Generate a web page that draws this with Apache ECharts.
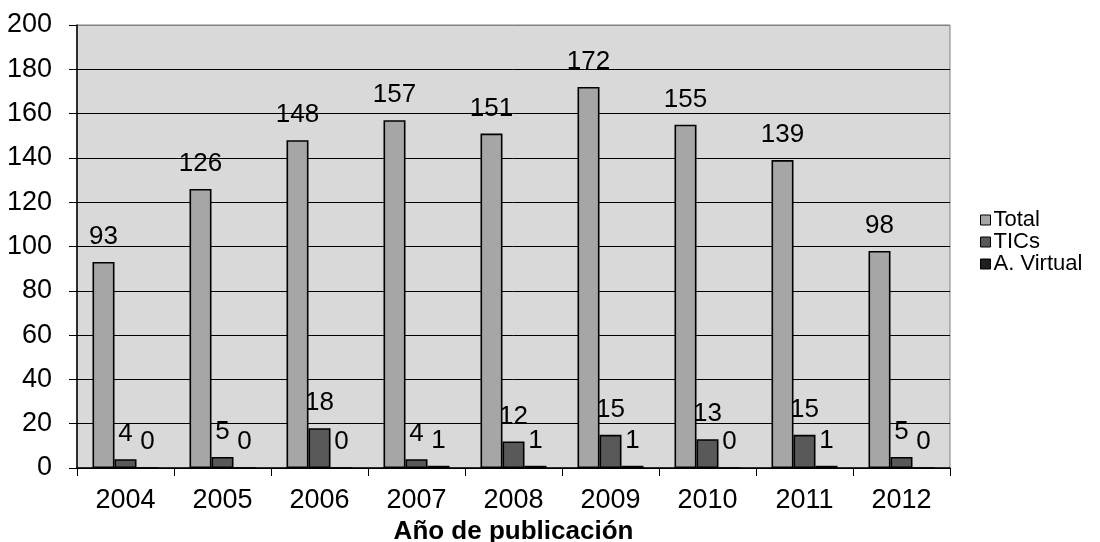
<!DOCTYPE html>
<html>
<head>
<meta charset="utf-8">
<style>
  html, body { margin: 0; padding: 0; background: #fff; }
  #chart { width: 1100px; height: 542px; }
</style>
<script src="https://cdn.jsdelivr.net/npm/echarts@6/dist/echarts.min.js"></script>
</head>
<body>
<div id="chart"></div>
<script>
// datos
var years = ['2004', '2005', '2006', '2007', '2008', '2009', '2010', '2011', '2012'];
var totalData = [93, 126, 148, 157, 151, 172, 155, 139, 98];
var ticsData = [4, 5, 18, 4, 12, 15, 13, 15, 5];
var virtualData = [0, 0, 0, 1, 1, 1, 0, 1, 0];
var yTicks = [0, 20, 40, 60, 80, 100, 120, 140, 160, 180, 200];

var font = '"Liberation Sans", Arial, sans-serif';

// lineas de division negras, la de arriba gris
var splitColors = yTicks.map(function (v, i) {
  return i === yTicks.length - 1 ? '#808080' : '#000';
});

function barSeries(name, data, color) {
  return {
    name: name,
    type: 'bar',
    data: data,
    barWidth: 22,
    barGap: '0%',
    itemStyle: { color: color, borderColor: '#000', borderWidth: 1.6 },
    label: {
      show: true,
      position: 'top',
      distance: 12,
      color: '#000',
      fontSize: 26,
      fontFamily: font
    }
  };
}

var chart = echarts.init(document.getElementById('chart'));
chart.setOption({
  animation: false,
  textStyle: { fontFamily: font, color: '#000' },
  grid: {
    left: 77,
    right: 150,
    top: 25,
    bottom: 74,
    outerBoundsMode: 'none',
    containLabel: false,
    show: true,
    backgroundColor: '#d9d9d9',
    borderColor: '#808080',
    borderWidth: 1
  },
  legend: {
    orient: 'vertical',
    left: 975,
    top: 204,
    itemWidth: 10,
    itemHeight: 10,
    itemGap: 0,
    itemStyle: { borderWidth: 1 },
    icon: 'rect',
    textStyle: { fontSize: 22, lineHeight: 19, color: '#000', fontFamily: font, padding: [0, 0, 0, -2] },
    data: ['Total', 'TICs', 'A. Virtual']
  },
  xAxis: {
    type: 'category',
    data: years,
    name: 'Año de publicación',
    nameLocation: 'middle',
    nameGap: 50,
    nameTextStyle: { fontSize: 26, fontWeight: 'bold', color: '#000', fontFamily: font },
    axisLine: { lineStyle: { color: '#000', width: 1.5 } },
    axisTick: { show: true, length: 8, lineStyle: { color: '#000' } },
    axisLabel: { fontSize: 27, color: '#000', margin: 19, fontFamily: font }
  },
  yAxis: {
    type: 'value',
    min: 0,
    max: 200,
    interval: 20,
    axisLine: { show: true, lineStyle: { color: '#000', width: 1.5 } },
    axisTick: { show: true, length: 8, lineStyle: { color: '#000' } },
    axisLabel: { fontSize: 27, color: '#000', margin: 25, fontFamily: font },
    splitLine: { show: true, lineStyle: { color: splitColors, width: 1 } }
  },
  series: [
    barSeries('Total', totalData, '#a6a6a6'),
    barSeries('TICs', ticsData, '#595959'),
    barSeries('A. Virtual', virtualData, '#1f1f1f')
  ]
});
</script>
</body>
</html>
